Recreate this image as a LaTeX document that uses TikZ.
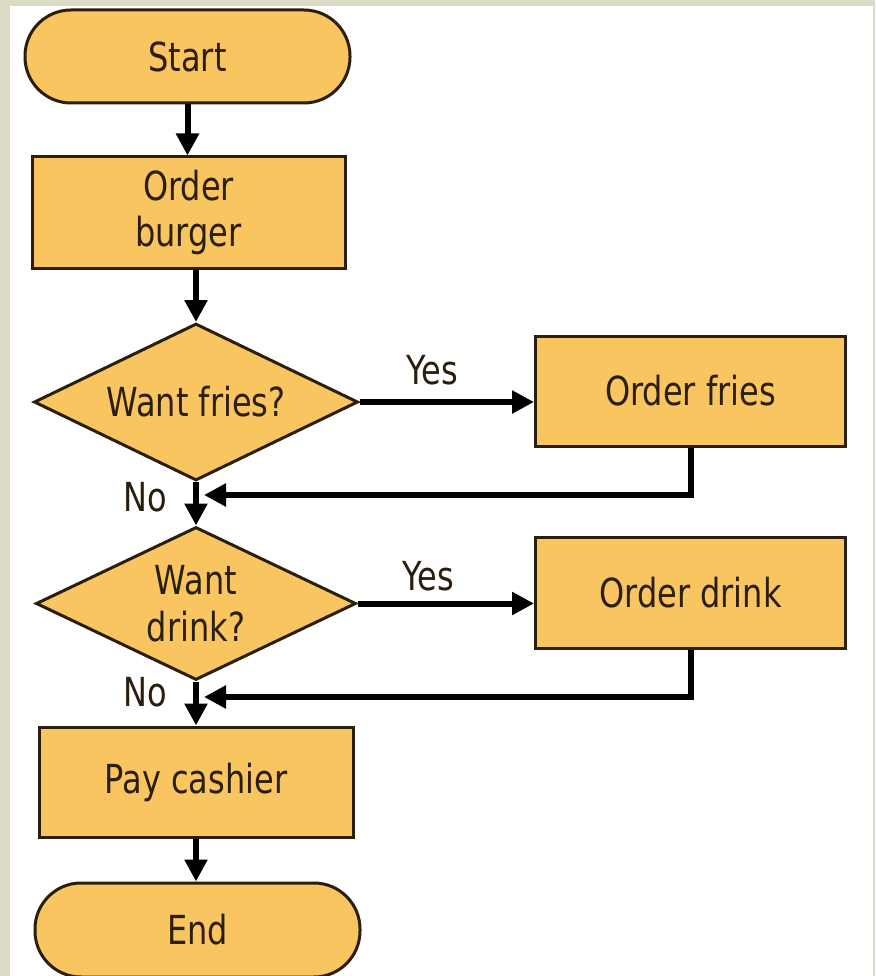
\documentclass[tikz,border=0pt]{standalone}
\usepackage{fontspec}
\setmainfont{DejaVu Sans}[FakeStretch=0.8]
\usetikzlibrary{shapes.geometric,arrows.meta}
\definecolor{fillc}{HTML}{F9C560}
\definecolor{linec}{HTML}{2A1E0C}
\definecolor{framec}{HTML}{DCDBC6}
\begin{document}
\begin{tikzpicture}[x=1pt,y=-1pt,
  every node/.style={font=\fontsize{40}{46}\selectfont, text=linec},
  procbox/.style={draw=linec, line width=3pt, fill=fillc, rectangle, inner sep=0pt, align=center},
  termbox/.style={draw=linec, line width=3pt, fill=fillc, rectangle, rounded corners=46pt, inner sep=0pt, align=center},
  decbox/.style={draw=linec, line width=3pt, fill=fillc, diamond, aspect=2, inner sep=0pt, align=center},
  conn/.style={draw=black, line width=6pt, -{Triangle[length=22pt,width=22pt]}},
  lbl/.style={inner sep=0pt}
]
\useasboundingbox (0,0) rectangle (875,976);
\fill[framec] (0,0) rectangle (875,976);
\fill[white] (10,6) rectangle (873,976);

\node[termbox, minimum width=325pt, minimum height=93pt] (start) at (187.5,56.5) {Start};
\node[procbox, minimum width=313pt, minimum height=111pt] (burger) at (188.5,212.5) {Order\\burger};
\node[decbox, minimum width=324pt, minimum height=157pt] (fries) at (196,402) {Want fries?};
\node[procbox, minimum width=310pt, minimum height=110pt] (ofries) at (690.5,391) {Order fries};
\node[decbox, minimum width=320pt, minimum height=153pt, font=\fontsize{40}{47}\selectfont] (drink) at (196,603.5) {Want\\drink?};
\node[procbox, minimum width=310pt, minimum height=111pt] (odrink) at (690.5,592.5) {Order drink};
\node[procbox, minimum width=314pt, minimum height=110pt] (pay) at (196,782) {Pay cashier};
\node[termbox, minimum width=325pt, minimum height=94pt] (end) at (197.5,930) {End};

\node[lbl] (yes1) at (432,370) {Yes};
\node[lbl] (yes2) at (428,576) {Yes};
\node[lbl] (no1) at (145,497) {No};
\node[lbl] (no2) at (145,692) {No};

\coordinate (m1) at (204,495);
\coordinate (m2) at (204,697);

\draw[conn] (start.south) -- (start.south |- burger.north);
\draw[conn] (fries.north |- burger.south) -- (fries.north);
\draw[conn] (fries.east) -- (fries.east -| ofries.west);
\draw[conn] (fries.south) -- (drink.north);
\draw[conn] (ofries.south) |- (m1);
\draw[conn] (drink.east) -- (drink.east -| odrink.west);
\draw[conn] (drink.south) -- (drink.south |- pay.north);
\draw[conn] (odrink.south) |- (m2);
\draw[conn] (pay.south) -- (pay.south |- end.north);
\end{tikzpicture}
\end{document}
